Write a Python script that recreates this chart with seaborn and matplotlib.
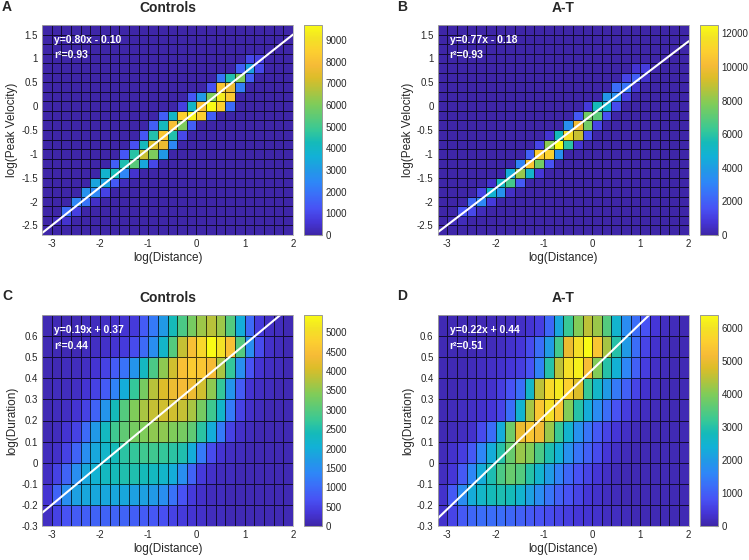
import numpy as np
import pandas as pd
import matplotlib
matplotlib.use('Agg')
import matplotlib.pyplot as plt
from matplotlib.colors import LinearSegmentedColormap
import seaborn as sns

# bin edges (log units)
x_edges = np.round(np.arange(-3.2, 2.01, 0.2), 2)
pv_edges = np.round(np.arange(-2.7, 1.71, 0.2), 2)
dur_edges = np.round(np.arange(-0.3, 0.71, 0.1), 2)

# peak velocity vs distance: y-bin row (0 = bottom) -> (first x-bin column, counts)
ctrl_pv_band = {
    1: (1, [300, 500]),
    2: (2, [1800, 800]),
    3: (3, [2400, 2000, 400]),
    4: (4, [2800, 2500, 900]),
    5: (5, [3300, 3200, 1400, 300]),
    6: (6, [3800, 4300, 2400, 500]),
    7: (7, [1500, 4400, 5400, 3400, 1000]),
    8: (8, [1300, 4600, 7000, 6000, 3000]),
    9: (9, [1200, 4200, 7200, 7600, 2500]),
    10: (10, [1300, 4500, 8200, 4500, 1000]),
    11: (11, [1500, 4200, 8000, 6000, 1500]),
    12: (12, [1500, 4000, 8500, 9500, 8500, 1500]),
    13: (14, [800, 4000, 8000, 9700, 8500, 1800]),
    14: (15, [1300, 3000, 6000, 9300, 8300]),
    15: (17, [1200, 8200, 7600, 2200]),
    16: (18, [2000, 4500, 6000, 1500]),
    17: (20, [1500, 3200, 1000]),
    18: (21, [1000, 800]),
}
at_pv_band = {
    1: (1, [300, 300]),
    2: (2, [1600, 1300, 300]),
    3: (3, [2200, 3200, 900]),
    4: (4, [1200, 4800, 3600, 500]),
    5: (5, [600, 5200, 6500, 1800]),
    6: (7, [4500, 8200, 5000, 800]),
    7: (8, [3000, 10500, 7500, 1600]),
    8: (9, [2000, 10800, 11000, 3500]),
    9: (10, [1200, 8000, 12500, 6000, 700]),
    10: (11, [700, 5500, 11500, 9000, 1500]),
    11: (13, [3500, 10000, 7500, 1200]),
    12: (14, [1800, 7500, 7000, 1500]),
    13: (15, [900, 5500, 5000, 1400]),
    14: (17, [3800, 3500, 1000]),
    15: (18, [2400, 2600, 700]),
    16: (19, [1200, 2000, 600]),
    17: (20, [700, 1000]),
}

# duration vs distance, rows listed from the top bin (0.6-0.7) down to (-0.3 to -0.2)
ctrl_dur = [
    [100, 100, 100, 100, 150, 150, 200, 250, 300, 400, 800, 1200, 1700, 2400, 2900, 3300, 3600, 3800, 3600, 3000, 2000, 1000, 400, 200, 150, 100],
    [100, 100, 100, 100, 150, 200, 250, 300, 400, 600, 1000, 1500, 2200, 3000, 3900, 4500, 4900, 5450, 5100, 4500, 3000, 1500, 600, 250, 150, 100],
    [100, 100, 150, 150, 200, 300, 500, 800, 1100, 1600, 2300, 2900, 3500, 4000, 4500, 4700, 4600, 4400, 3700, 2700, 1500, 700, 300, 200, 150, 100],
    [100, 150, 150, 200, 300, 500, 800, 1300, 2000, 2700, 3300, 3800, 4100, 4300, 4400, 4300, 4000, 3500, 2700, 1600, 800, 300, 200, 150, 100, 100],
    [100, 150, 200, 300, 500, 900, 1600, 2400, 3000, 3400, 3700, 3900, 4000, 4000, 3900, 3700, 3300, 2800, 2200, 1200, 500, 250, 150, 100, 100, 100],
    [100, 150, 300, 500, 1000, 1700, 2300, 2800, 3100, 3300, 3400, 3500, 3500, 3400, 3300, 3100, 2600, 2000, 1200, 500, 250, 150, 100, 100, 100, 100],
    [150, 250, 500, 900, 1500, 1900, 2200, 2400, 2600, 2700, 2800, 2800, 2700, 2600, 2500, 2000, 1200, 600, 300, 200, 150, 100, 100, 100, 100, 100],
    [200, 500, 900, 1500, 1900, 2100, 2300, 2400, 2500, 2500, 2400, 2300, 2200, 2000, 1500, 900, 400, 250, 150, 150, 100, 100, 100, 100, 100, 100],
    [300, 900, 1500, 1800, 1900, 1900, 1900, 1900, 1900, 1800, 1800, 1700, 1500, 1100, 700, 400, 250, 150, 150, 100, 100, 100, 100, 100, 100, 100],
    [200, 500, 700, 800, 850, 900, 900, 900, 900, 850, 800, 750, 650, 500, 400, 300, 250, 150, 150, 100, 100, 100, 100, 100, 100, 100],
]
at_dur = [
    [100, 100, 100, 100, 100, 150, 150, 200, 250, 350, 500, 1100, 2200, 3200, 4000, 4500, 4200, 3500, 2500, 1700, 1200, 800, 400, 200, 150, 100],
    [100, 100, 100, 100, 150, 150, 200, 300, 400, 700, 1200, 2000, 3300, 5000, 5900, 6380, 5400, 4300, 3000, 2000, 1200, 600, 300, 150, 100, 100],
    [100, 100, 100, 150, 200, 250, 300, 400, 500, 800, 1500, 3000, 4500, 5900, 6200, 5200, 4000, 3000, 2400, 1600, 1000, 500, 250, 150, 100, 100],
    [100, 100, 150, 200, 250, 300, 500, 800, 1200, 2600, 4500, 5800, 6100, 5600, 4800, 3200, 2600, 2000, 1400, 1000, 600, 300, 200, 100, 100, 100],
    [100, 150, 200, 250, 300, 400, 600, 1200, 2500, 4300, 5400, 5900, 5400, 4000, 3000, 2300, 1700, 1200, 800, 500, 300, 200, 150, 100, 100, 100],
    [100, 150, 200, 300, 700, 1200, 2300, 3800, 5000, 5400, 5100, 4200, 3200, 2500, 1800, 1300, 900, 600, 400, 250, 150, 100, 100, 100, 100, 100],
    [150, 300, 500, 900, 1600, 2300, 3000, 3700, 4200, 4000, 3400, 2900, 2400, 1800, 1300, 1000, 700, 400, 250, 150, 100, 100, 100, 100, 100, 100],
    [200, 400, 900, 1600, 2300, 2900, 3400, 3700, 3500, 3000, 2500, 2000, 1500, 1100, 800, 600, 400, 250, 150, 100, 100, 100, 100, 100, 100, 100],
    [300, 900, 1700, 2300, 2600, 2800, 2900, 2800, 2500, 2100, 1700, 1300, 1000, 800, 600, 400, 300, 200, 150, 100, 100, 100, 100, 100, 100, 100],
    [300, 600, 900, 1100, 1200, 1200, 1200, 1100, 1000, 900, 800, 700, 600, 500, 400, 350, 300, 200, 200, 150, 100, 100, 100, 100, 100, 100],
]

# regression fits (slope, intercept, r^2)
fits = {
    'A': (0.80, -0.10, 0.93),
    'B': (0.77, -0.18, 0.93),
    'C': (0.19, 0.37, 0.44),
    'D': (0.22, 0.44, 0.51),
}
cbar_max = {'A': 9700, 'B': 12500, 'C': 5450, 'D': 6380}
cbar_step = {'A': 1000, 'B': 2000, 'C': 500, 'D': 1000}

parula = LinearSegmentedColormap.from_list('parula', [
    (0.000, '#3e26a8'), (0.060, '#4535d6'), (0.125, '#4852f4'),
    (0.190, '#3b6ef8'), (0.250, '#2e87f7'), (0.310, '#2199e6'),
    (0.375, '#12b1d6'), (0.440, '#15bab9'), (0.500, '#37c897'),
    (0.560, '#5bca78'), (0.625, '#80cc59'), (0.690, '#b2c33d'),
    (0.750, '#dcbd29'), (0.810, '#f6bb37'), (0.875, '#fccf30'),
    (0.940, '#f3e324'), (1.000, '#f9fb15'),
])


def band_to_grid(band, n_rows):
    grid = np.zeros((n_rows, len(x_edges) - 1))
    for row, (start, vals) in band.items():
        grid[row, start:start + len(vals)] = vals
    return grid


sns.set_style('white')
plt.rcParams['font.family'] = ['Liberation Sans', 'DejaVu Sans']
plt.rcParams['axes.unicode_minus'] = False

fig = plt.figure(figsize=(7.49, 5.6), dpi=100)

W, H = 749, 560
panels = {
    'A': dict(ax=(42, 25, 251, 210), cb=(304, 25, 17.5, 210), title='Controls'),
    'B': dict(ax=(437.7, 25, 251, 210), cb=(700, 25, 17.5, 210), title='A-T'),
    'C': dict(ax=(42, 315, 251, 211), cb=(304, 315, 17.5, 211), title='Controls'),
    'D': dict(ax=(437.7, 315, 251, 211), cb=(700, 315, 17.5, 211), title='A-T'),
}
grids = {
    'A': (band_to_grid(ctrl_pv_band, len(pv_edges) - 1), pv_edges),
    'B': (band_to_grid(at_pv_band, len(pv_edges) - 1), pv_edges),
    'C': (np.array(ctrl_dur)[::-1], dur_edges),
    'D': (np.array(at_dur)[::-1], dur_edges),
}


def px_rect(r):
    x, y, w, h = r
    return [x / W, 1 - (y + h) / H, w / W, h / H]


xc = (x_edges[:-1] + x_edges[1:]) / 2
for key, p in panels.items():
    ax = fig.add_axes(px_rect(p['ax']))
    cax = fig.add_axes(px_rect(p['cb']))
    counts, y_edges = grids[key]
    yc = (y_edges[:-1] + y_edges[1:]) / 2
    X, Y = np.meshgrid(xc, yc)
    df = pd.DataFrame({'dist': X.ravel(), 'val': Y.ravel(), 'n': counts.ravel()})
    sns.histplot(data=df, x='dist', y='val', weights='n', bins=[x_edges, y_edges],
                 thresh=None, cmap=parula, vmin=0, vmax=cbar_max[key],
                 edgecolor=(0, 0, 0, 0.7), linewidth=0.5,
                 cbar=True, cbar_ax=cax, ax=ax)

    slope, icpt, r2 = fits[key]
    ends = x_edges[[0, -1]]
    ax.plot(ends, slope * ends + icpt, color='white', lw=1.5)
    ax.set_xlim(x_edges[0], x_edges[-1])
    ax.set_ylim(y_edges[0], y_edges[-1])

    sign = '-' if icpt < 0 else '+'
    ax.text(0.048, 0.93, f'y={slope:.2f}x {sign} {abs(icpt):.2f}', transform=ax.transAxes,
            color='white', fontweight='bold', fontsize=7.5, va='center')
    ax.text(0.048, 0.855, f'r\u00b2={r2:.2f}', transform=ax.transAxes,
            color='white', fontweight='bold', fontsize=7.5, va='center')

    ax.set_xticks([-3, -2, -1, 0, 1, 2])
    ax.set_xticklabels(['-3', '-2', '-1', '0', '1', '2'])
    if key in ('A', 'B'):
        yt = [-2.5, -2, -1.5, -1, -0.5, 0, 0.5, 1, 1.5]
        ax.set_ylabel('log(Peak Velocity)', fontsize=8.5, labelpad=2)
    else:
        yt = [-0.3, -0.2, -0.1, 0, 0.1, 0.2, 0.3, 0.4, 0.5, 0.6]
        ax.set_ylabel('log(Duration)', fontsize=8.5, labelpad=2)
    ax.set_yticks(yt)
    ax.set_yticklabels([f'{v:g}' for v in yt])
    ax.set_xlabel('log(Distance)', fontsize=8.5, labelpad=2)
    ax.tick_params(labelsize=7, direction='in', length=2.5, color='#555555', pad=3)
    ax.set_title(p['title'], fontweight='bold', fontsize=10, pad=9)
    for s in ax.spines.values():
        s.set_color('#b0b0b0')
        s.set_linewidth(0.6)

    ticks = np.arange(0, cbar_max[key] + 1, cbar_step[key])
    cax.set_yticks(ticks)
    cax.set_yticklabels([f'{t:g}' for t in ticks])
    cax.tick_params(labelsize=7, direction='in', length=2.5, color='#444444', pad=3)
    cax.set_ylim(0, cbar_max[key])
    cb = ax.collections[0].colorbar
    cb.outline.set_edgecolor('#999999')
    cb.outline.set_linewidth(0.7)

    lx = 2 if key in ('A', 'C') else 397
    ly = 7 if key in ('A', 'B') else 296
    fig.text(lx / W, 1 - ly / H, key, fontweight='bold', fontsize=10, va='center')

fig.savefig('out.png', dpi=100)
